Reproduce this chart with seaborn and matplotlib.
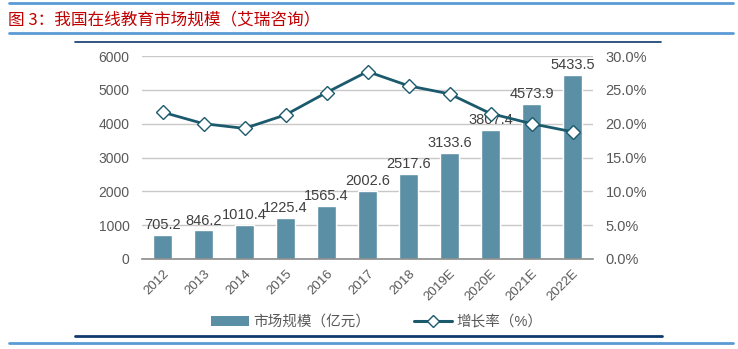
import matplotlib
matplotlib.use("Agg")
import matplotlib.pyplot as plt
import seaborn as sns
import numpy as np
import pandas as pd
from matplotlib.lines import Line2D
from matplotlib.patches import Patch

years = ["2012", "2013", "2014", "2015", "2016", "2017", "2018", "2019E", "2020E", "2021E", "2022E"]
market_size = [705.2, 846.2, 1010.4, 1225.4, 1565.4, 2002.6, 2517.6, 3133.6, 3807.4, 4573.9, 5433.5]
growth_rate = [21.7, 20.0, 19.3, 21.3, 24.6, 27.7, 25.6, 24.4, 21.5, 20.0, 18.8]

title = "图 3：我国在线教育市场规模（艾瑞咨询）"
bar_label = "市场规模（亿元）"
line_label = "增长率（%）"

sns.set_theme(style="white")
plt.rcParams['font.family'] = ['Liberation Sans', 'Noto Sans CJK SC', 'DejaVu Sans']

bar_color = "#5b8fa6"
line_color = "#1b5a6c"
text_gray = "#595959"

fig = plt.figure(figsize=(7.38, 3.49), dpi=100)
ax = fig.add_axes([142/738, 1-259/349, (593-142)/738, (259-56)/349])

df = pd.DataFrame({"year": years, "size": market_size, "growth": growth_rate})
sns.barplot(data=df, x="year", y="size", ax=ax, color=bar_color, width=0.48, saturation=1)
for c in ax.containers:
    ax.bar_label(c, fmt="%.1f", padding=2, fontsize=10.5, color="#404040")

ax.set_ylim(0, 6000)
ax.set_xlim(-0.5, len(years) - 0.5)
ax.set_yticks(np.arange(0, 6001, 1000))
ax.yaxis.grid(True, color="#c8c8c8", linewidth=1)
ax.set_axisbelow(True)
for s in ["top", "right", "left"]:
    ax.spines[s].set_visible(False)
ax.spines["bottom"].set_color("#8c8c8c")
ax.spines["bottom"].set_linewidth(1.2)
ax.set_xlabel("")
ax.set_ylabel("")
ax.tick_params(axis="y", length=0, labelsize=10, colors=text_gray, pad=9)
ax.tick_params(axis="x", length=0, labelsize=9.5, colors=text_gray, pad=6)
plt.setp(ax.get_xticklabels(), rotation=45, ha="right", rotation_mode="anchor")

ax2 = ax.twinx()
sns.lineplot(x=np.arange(len(years)), y=growth_rate, ax=ax2, color=line_color, linewidth=2.0,
             marker="D", markersize=7, markerfacecolor="white", markeredgecolor=line_color,
             markeredgewidth=1.0)
ax2.set_ylim(0, 30)
ax2.set_yticks(np.arange(0, 30.1, 5))
ax2.set_yticklabels([f"{v:.1f}%" for v in np.arange(0, 30.1, 5)])
for s in ["top", "right", "left", "bottom"]:
    ax2.spines[s].set_visible(False)
ax2.tick_params(axis="y", length=0, labelsize=10.5, colors=text_gray, pad=9)
ax2.set_ylabel("")
ax2.grid(False)

handles = [Patch(facecolor=bar_color, edgecolor="none"),
           Line2D([0], [0], color=line_color, linewidth=2.2, marker="D", markersize=6,
                  markerfacecolor="white", markeredgecolor=line_color)]
fig.legend(handles, [bar_label, line_label], loc="center", bbox_to_anchor=(0.51, 1-322/349),
           ncol=2, frameon=False, fontsize=10.5, handlelength=2.6, columnspacing=3.0,
           labelcolor=text_gray, handletextpad=0.3)

fig.text(8/738, 1-20/349, title, color="#c00000", fontsize=12, va="center", ha="left",
         family=['Noto Sans CJK SC', 'DejaVu Sans'])

def hline(y, x0, x1, color, lw):
    fig.add_artist(Line2D([x0/738, x1/738], [1-y/349, 1-y/349], color=color, linewidth=lw,
                          transform=fig.transFigure))

light_blue = "#5b9bd5"
dark_blue = "#0e3a6e"
hline(3, 9, 733, light_blue, 2)
hline(33, 9, 733, light_blue, 2)
hline(41.5, 75, 661, dark_blue, 1.2)
hline(336, 75, 662, dark_blue, 2)
hline(342.5, 9, 733, light_blue, 2)

fig.savefig("out.png", dpi=100)
